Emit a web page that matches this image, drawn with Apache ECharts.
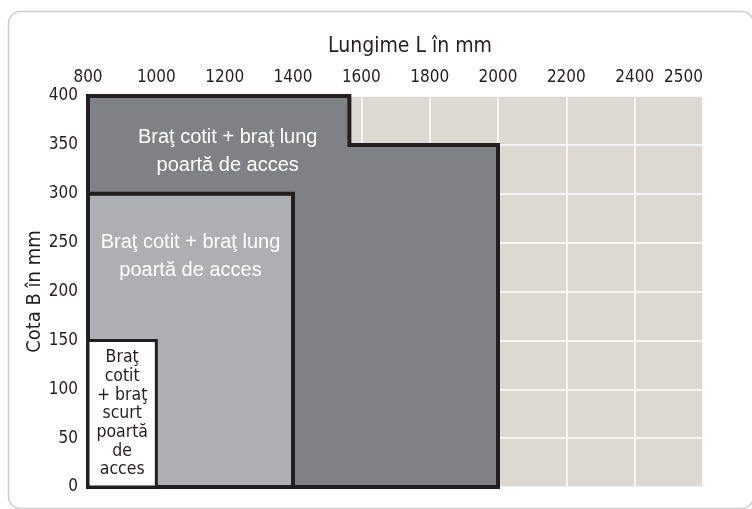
<!DOCTYPE html>
<html>
<head>
<meta charset="utf-8">
<script src="https://cdn.jsdelivr.net/npm/echarts@6/dist/echarts.min.js"></script>
<style>
  html, body { margin: 0; padding: 0; background: #fff; }
  #chart { width: 752px; height: 509px; }
</style>
</head>
<body>
<div id="chart"></div>
<script>
// Length tick labels (mm); each column of the grid is one step of this list
const lengthTicks = [800, 1000, 1200, 1400, 1600, 1800, 2000, 2200, 2400, 2500];
// Height axis range (mm)
const heightMin = 0;
const heightMax = 400;
const heightStep = 50;

// Usable zones: common start length, then the max length and height of each zone
const minLength = 800;
// long arm, upper band and lower band
const longArmLengths = [1565, 2000];
const longArmHeights = [400, 350];
// long arm, access gate
const gateArmLength = 1400;
const gateArmHeight = 300;
// short arm
const shortArmLength = 1000;
const shortArmHeight = 150;

const zoneTexts = [
  'Braţ cotit + braţ lung\npoartă de acces',
  'Braţ cotit + braţ lung\npoartă de acces',
  'Braţ\ncotit\n+ braţ\nscurt\npoartă\nde\nacces'
];

// Piecewise-linear mapping of a length in mm onto the column index of the axis
function lengthToIndex(mm) {
  for (let i = 0; i < lengthTicks.length - 1; i++) {
    const a = lengthTicks[i], b = lengthTicks[i + 1];
    if (mm <= b) return i + (mm - a) / (b - a);
  }
  return lengthTicks.length - 1;
}

const zonePolygons = [
  [[minLength, 0], [minLength, longArmHeights[0]], [longArmLengths[0], longArmHeights[0]],
   [longArmLengths[0], longArmHeights[1]], [longArmLengths[1], longArmHeights[1]], [longArmLengths[1], 0]],
  [[minLength, 0], [minLength, gateArmHeight], [gateArmLength, gateArmHeight], [gateArmLength, 0]],
  [[minLength, 0], [minLength, shortArmHeight], [shortArmLength, shortArmHeight], [shortArmLength, 0]]
];

const zoneFills = ['#808185', '#aeafb3', '#ffffff'];
const narrow = '"Liberation Sans Narrow", "DejaVu Sans Condensed", "Liberation Sans", sans-serif';
const regular = '"Liberation Sans", Arial, sans-serif';

const chart = echarts.init(document.getElementById('chart'), null, { renderer: 'canvas' });

chart.setOption({
  animation: false,
  backgroundColor: '#ffffff',
  title: {
    text: 'Lungime L în mm',
    left: 405,
    top: 31,
    textAlign: 'center',
    textStyle: { fontFamily: narrow, fontSize: 21, fontWeight: 'normal', color: '#231f20' }
  },
  graphic: [{
    type: 'rect',
    silent: true,
    shape: { x: 8.5, y: 11.5, width: 745, height: 497, r: 12 },
    style: { fill: 'none', stroke: '#cdcdcd', lineWidth: 1.5 },
    z: -10
  }],
  grid: {
    left: 88, right: 49, top: 96, bottom: 22,
    show: true, backgroundColor: '#ded8d3', borderWidth: 0
  },
  xAxis: {
    type: 'value',
    position: 'top',
    min: 0,
    max: lengthTicks.length - 1,
    interval: 1,
    axisLine: { show: false },
    axisTick: { show: false },
    axisLabel: {
      formatter: v => String(lengthTicks[v]),
      fontFamily: narrow, fontSize: 17, color: '#231f20', margin: 10,
      alignMaxLabel: 'right'
    },
    splitLine: { show: true, lineStyle: { color: '#ffffff', width: 1.5 } }
  },
  yAxis: {
    type: 'value',
    min: heightMin,
    max: heightMax,
    interval: heightStep,
    name: 'Cota B în mm',
    nameLocation: 'middle',
    nameGap: 43,
    nameMoveOverlap: false,
    nameTextStyle: { fontFamily: narrow, fontSize: 20, color: '#231f20' },
    axisLine: { show: false },
    axisTick: { show: false },
    axisLabel: { fontFamily: narrow, fontSize: 17, color: '#231f20', margin: 10 },
    splitLine: { show: true, lineStyle: { color: '#ffffff', width: 1.5 } }
  },
  series: [{
    type: 'custom',
    coordinateSystem: 'cartesian2d',
    data: zonePolygons.map((_, i) => [i]),
    encode: { x: -1, y: -1 },
    clip: false,
    renderItem: function (params, api) {
      const i = params.dataIndex;
      const pts = zonePolygons[i].map(p => api.coord([lengthToIndex(p[0]), p[1]]));
      const children = [{
        type: 'polygon',
        shape: { points: pts },
        style: { fill: zoneFills[i], stroke: '#231f20', lineWidth: i === 2 ? 3 : 4, lineJoin: 'miter' }
      }];
      let tx, ty, textStyle;
      if (i === 0) {
        const a = api.coord([lengthToIndex(minLength), longArmHeights[0]]);
        const b = api.coord([lengthToIndex(longArmLengths[0]), longArmHeights[0]]);
        tx = (a[0] + b[0]) / 2 + 9; ty = a[1] + 55;
        textStyle = { fill: '#ffffff', fontFamily: regular, fontSize: 20, lineHeight: 28 };
      } else if (i === 1) {
        const a = api.coord([lengthToIndex(minLength), gateArmHeight]);
        const b = api.coord([lengthToIndex(gateArmLength), gateArmHeight]);
        tx = (a[0] + b[0]) / 2; ty = a[1] + 63;
        textStyle = { fill: '#ffffff', fontFamily: regular, fontSize: 20, lineHeight: 28 };
      } else {
        const a = api.coord([lengthToIndex(minLength), shortArmHeight]);
        const b = api.coord([lengthToIndex(shortArmLength), 0]);
        tx = (a[0] + b[0]) / 2; ty = (a[1] + b[1]) / 2;
        textStyle = { fill: '#231f20', fontFamily: narrow, fontSize: 17.5, lineHeight: 18.7 };
      }
      children.push({
        type: 'text',
        style: Object.assign({ text: zoneTexts[i], x: tx, y: ty, align: 'center', verticalAlign: 'middle' }, textStyle)
      });
      return { type: 'group', children: children };
    }
  }]
});
</script>
</body>
</html>
